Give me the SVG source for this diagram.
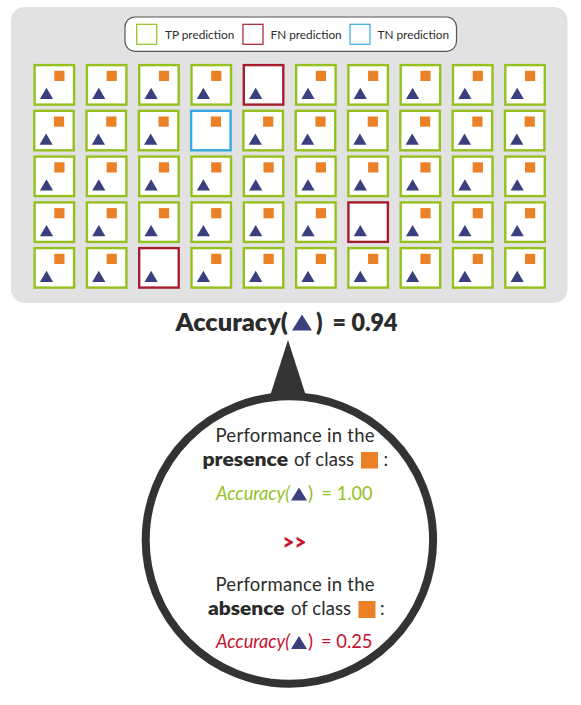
<svg xmlns="http://www.w3.org/2000/svg" width="581" height="705" viewBox="0 0 581 705">
<style>
text{font-family:Lato,"Open Sans","Liberation Sans",sans-serif;fill:#2b2b2b}
.c{fill:#fff;stroke-width:2.4}
.tp{stroke:#95c11f}.fn{stroke:#a61e2e}.tn{stroke:#36a9e1}
.o{fill:#ea8127}.n{fill:#3a3f7e}
.l{font-size:11.8px}
.p{font-size:18.5px}
.b{font-size:19px;font-weight:800}
.a{font-size:19px;font-style:italic}
.t{font-size:23.5px;font-weight:800}
</style>
<defs>
<rect id="sq" class="o" x="20.8" y="6.8" width="10.2" height="10.2"/>
<path id="tr" class="n" d="M13 23.7 19.6 35H6.4Z"/>
<g id="tpc"><rect class="c tp" x="1.1" y="1.1" width="39.5" height="39.5"/><use href="#sq"/><use href="#tr"/></g>
<g id="fnc"><rect class="c fn" x="1.1" y="1.1" width="39.5" height="39.5"/><use href="#tr"/></g>
<g id="tnc"><rect class="c tn" x="1.1" y="1.1" width="39.5" height="39.5"/><use href="#sq"/></g>
</defs>
<rect id="panel" x="11" y="7" width="556.5" height="296" rx="14" fill="#e2e2e2"/>
<g id="legend">
<rect x="125" y="17" width="331.5" height="34.3" rx="10" fill="#fff" stroke="#555" stroke-width="1.2"/>
<rect x="136.7" y="24.3" width="20" height="20" fill="#fff" stroke="#95c11f" stroke-width="1.2"/>
<text class="l" x="165" y="39">TP prediction</text>
<rect x="243" y="24.3" width="20" height="20" fill="#fff" stroke="#a61e2e" stroke-width="1.2"/>
<text class="l" x="270.5" y="39">FN prediction</text>
<rect x="350" y="24.3" width="20" height="20" fill="#fff" stroke="#36a9e1" stroke-width="1.2"/>
<text class="l" x="377.5" y="39">TN prediction</text>
</g>
<g id="cells">
<g id="r1c1" transform="translate(33.5 64)"><use href="#tpc"/></g>
<g id="r1c2" transform="translate(85.8 64)"><use href="#tpc"/></g>
<g id="r1c3" transform="translate(138.1 64)"><use href="#tpc"/></g>
<g id="r1c4" transform="translate(190.4 64)"><use href="#tpc"/></g>
<g id="r1c5" transform="translate(242.7 64)"><use href="#fnc"/></g>
<g id="r1c6" transform="translate(295 64)"><use href="#tpc"/></g>
<g id="r1c7" transform="translate(347.3 64)"><use href="#tpc"/></g>
<g id="r1c8" transform="translate(399.6 64)"><use href="#tpc"/></g>
<g id="r1c9" transform="translate(451.9 64)"><use href="#tpc"/></g>
<g id="r1c10" transform="translate(504.2 64)"><use href="#tpc"/></g>
<g id="r2c1" transform="translate(33.1 109.7)"><use href="#tpc"/></g>
<g id="r2c2" transform="translate(85.4 109.7)"><use href="#tpc"/></g>
<g id="r2c3" transform="translate(137.7 109.7)"><use href="#tpc"/></g>
<g id="r2c4" transform="translate(190 109.7)"><use href="#tnc"/></g>
<g id="r2c5" transform="translate(242.3 109.7)"><use href="#tpc"/></g>
<g id="r2c6" transform="translate(294.6 109.7)"><use href="#tpc"/></g>
<g id="r2c7" transform="translate(346.9 109.7)"><use href="#tpc"/></g>
<g id="r2c8" transform="translate(399.2 109.7)"><use href="#tpc"/></g>
<g id="r2c9" transform="translate(451.5 109.7)"><use href="#tpc"/></g>
<g id="r2c10" transform="translate(503.8 109.7)"><use href="#tpc"/></g>
<g id="r3c1" transform="translate(33.5 155.5)"><use href="#tpc"/></g>
<g id="r3c2" transform="translate(85.8 155.5)"><use href="#tpc"/></g>
<g id="r3c3" transform="translate(138.1 155.5)"><use href="#tpc"/></g>
<g id="r3c4" transform="translate(190.4 155.5)"><use href="#tpc"/></g>
<g id="r3c5" transform="translate(242.7 155.5)"><use href="#tpc"/></g>
<g id="r3c6" transform="translate(295 155.5)"><use href="#tpc"/></g>
<g id="r3c7" transform="translate(347.3 155.5)"><use href="#tpc"/></g>
<g id="r3c8" transform="translate(399.6 155.5)"><use href="#tpc"/></g>
<g id="r3c9" transform="translate(451.9 155.5)"><use href="#tpc"/></g>
<g id="r3c10" transform="translate(504.2 155.5)"><use href="#tpc"/></g>
<g id="r4c1" transform="translate(33.5 201.3)"><use href="#tpc"/></g>
<g id="r4c2" transform="translate(85.8 201.3)"><use href="#tpc"/></g>
<g id="r4c3" transform="translate(138.1 201.3)"><use href="#tpc"/></g>
<g id="r4c4" transform="translate(190.4 201.3)"><use href="#tpc"/></g>
<g id="r4c5" transform="translate(242.7 201.3)"><use href="#tpc"/></g>
<g id="r4c6" transform="translate(295 201.3)"><use href="#tpc"/></g>
<g id="r4c7" transform="translate(347.3 201.3)"><use href="#fnc"/></g>
<g id="r4c8" transform="translate(399.6 201.3)"><use href="#tpc"/></g>
<g id="r4c9" transform="translate(451.9 201.3)"><use href="#tpc"/></g>
<g id="r4c10" transform="translate(504.2 201.3)"><use href="#tpc"/></g>
<g id="r5c1" transform="translate(33.5 247)"><use href="#tpc"/></g>
<g id="r5c2" transform="translate(85.8 247)"><use href="#tpc"/></g>
<g id="r5c3" transform="translate(138.1 247)"><use href="#fnc"/></g>
<g id="r5c4" transform="translate(190.4 247)"><use href="#tpc"/></g>
<g id="r5c5" transform="translate(242.7 247)"><use href="#tpc"/></g>
<g id="r5c6" transform="translate(295 247)"><use href="#tpc"/></g>
<g id="r5c7" transform="translate(347.3 247)"><use href="#tpc"/></g>
<g id="r5c8" transform="translate(399.6 247)"><use href="#tpc"/></g>
<g id="r5c9" transform="translate(451.9 247)"><use href="#tpc"/></g>
<g id="r5c10" transform="translate(504.2 247)"><use href="#tpc"/></g>
</g>
<g id="title">
<text class="t" x="175.5" y="330.5" textLength="112.5" lengthAdjust="spacingAndGlyphs">Accuracy(</text>
<path class="n" d="M302 314.5 312 330.5H292Z"/>
<text class="t" x="316" y="330.5">)</text>
<text class="t" x="332.5" y="330.5" textLength="65" lengthAdjust="spacingAndGlyphs">= 0.94</text>
</g>
<g id="magnifier">
<path d="M288 340 306 396H270Z" fill="#333"/>
<circle cx="289.4" cy="540" r="143.7" fill="#fff" stroke="#333" stroke-width="8"/>
</g>
<g id="detail">
<text class="p" x="215.5" y="441.5" textLength="159" lengthAdjust="spacing">Performance in the</text>
<text class="b" x="202.5" y="466" textLength="85.5" lengthAdjust="spacingAndGlyphs">presence</text>
<text class="p" x="294" y="466" textLength="60" lengthAdjust="spacing">of class</text>
<rect class="o" x="361" y="452" width="17" height="16.5"/>
<text class="p" x="383.5" y="466">:</text>
<text class="a" x="216" y="500" style="fill:#95c11f" textLength="74" lengthAdjust="spacingAndGlyphs">Accuracy(</text>
<path class="n" d="M299 487.5 307 500.5H291Z"/>
<text x="308" y="500" font-size="19" style="fill:#95c11f">)</text>
<text x="321.5" y="500" font-size="19" style="fill:#95c11f" textLength="51" lengthAdjust="spacingAndGlyphs">= 1.00</text>
<text x="282.5" y="549.5" font-size="23" font-weight="800" style="fill:#c4122f" textLength="24" lengthAdjust="spacingAndGlyphs">&gt;&gt;</text>
<text class="p" x="215.5" y="590.5" textLength="159" lengthAdjust="spacing">Performance in the</text>
<text class="b" x="208" y="615" textLength="76.5" lengthAdjust="spacingAndGlyphs">absence</text>
<text class="p" x="291" y="615" textLength="60" lengthAdjust="spacing">of class</text>
<rect class="o" x="358.5" y="601" width="17" height="17"/>
<text class="p" x="380" y="615">:</text>
<text class="a" x="216" y="648" style="fill:#c4122f" textLength="74" lengthAdjust="spacingAndGlyphs">Accuracy(</text>
<path class="n" d="M299 636 307 649H291Z"/>
<text x="308" y="648" font-size="19" style="fill:#c4122f">)</text>
<text x="321" y="648" font-size="19" style="fill:#c4122f" textLength="51.5" lengthAdjust="spacingAndGlyphs">= 0.25</text>
</g>
</svg>
